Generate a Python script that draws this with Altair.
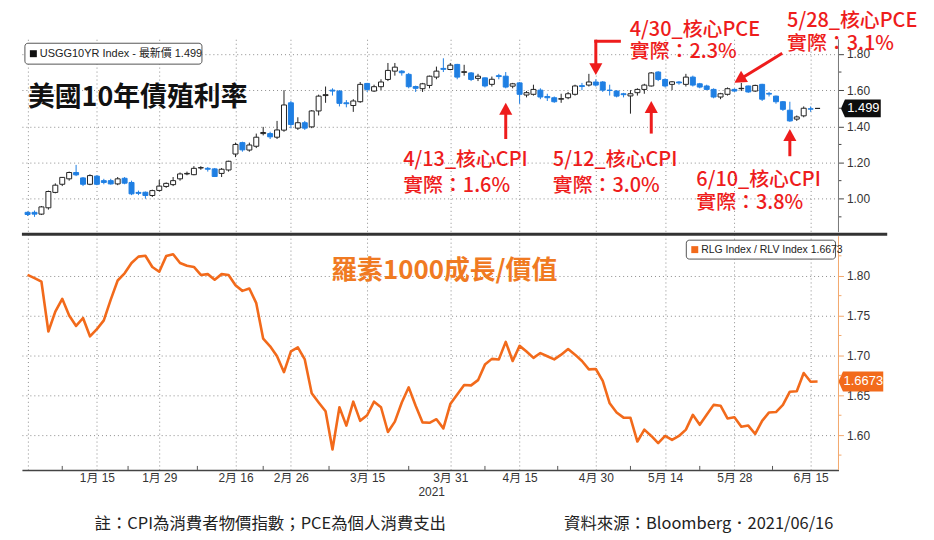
import altair as alt
import pandas as pd

# trading days shown on the Bloomberg chart (weekends and US holidays skipped)
holidays = ["2021-01-01", "2021-01-18", "2021-02-15", "2021-04-02", "2021-05-31"]
days = [d for d in pd.bdate_range("2020-12-31", "2021-06-16").strftime("%Y-%m-%d")
        if d not in holidays]

# USGG10YR candles
yield_open = [0.925, 0.925, 0.915, 0.950, 1.035, 1.080, 1.110, 1.145, 1.115, 1.080,
              1.125, 1.100, 1.100, 1.082, 1.113, 1.090, 1.035, 1.036, 1.018, 1.046,
              1.068, 1.078, 1.110, 1.137, 1.133, 1.170, 1.168, 1.165, 1.140, 1.159,
              1.247, 1.310, 1.269, 1.290, 1.360, 1.360, 1.340, 1.379, 1.530, 1.390,
              1.420, 1.397, 1.485, 1.570, 1.600, 1.595, 1.530, 1.515, 1.536, 1.637,
              1.595, 1.619, 1.659, 1.705, 1.705, 1.687, 1.620, 1.608, 1.626, 1.672,
              1.720, 1.714, 1.742, 1.698, 1.695, 1.665, 1.668, 1.632, 1.680, 1.677,
              1.622, 1.640, 1.573, 1.577, 1.600, 1.565, 1.558, 1.550, 1.558, 1.577,
              1.625, 1.628, 1.645, 1.645, 1.600, 1.595, 1.580, 1.568, 1.586, 1.604,
              1.623, 1.700, 1.659, 1.632, 1.645, 1.632, 1.672, 1.635, 1.623, 1.604,
              1.562, 1.577, 1.604, 1.608, 1.623, 1.595, 1.632, 1.582, 1.567, 1.536,
              1.489, 1.440, 1.458, 1.497, 1.499]
yield_high = [0.930, 0.935, 0.960, 1.045, 1.085, 1.120, 1.150, 1.187, 1.120, 1.135,
              1.130, 1.110, 1.110, 1.120, 1.120, 1.100, 1.045, 1.040, 1.050, 1.104,
              1.090, 1.120, 1.145, 1.150, 1.180, 1.180, 1.175, 1.170, 1.170, 1.210,
              1.310, 1.315, 1.310, 1.360, 1.397, 1.370, 1.430, 1.600, 1.540, 1.450,
              1.430, 1.490, 1.575, 1.620, 1.610, 1.600, 1.545, 1.550, 1.645, 1.640,
              1.630, 1.660, 1.750, 1.750, 1.710, 1.695, 1.625, 1.640, 1.680, 1.730,
              1.776, 1.750, 1.745, 1.740, 1.700, 1.690, 1.670, 1.675, 1.690, 1.700,
              1.640, 1.645, 1.595, 1.630, 1.610, 1.580, 1.565, 1.580, 1.590, 1.630,
              1.640, 1.690, 1.660, 1.650, 1.630, 1.600, 1.585, 1.600, 1.610, 1.635,
              1.700, 1.705, 1.665, 1.650, 1.650, 1.690, 1.680, 1.640, 1.630, 1.610,
              1.585, 1.615, 1.610, 1.640, 1.625, 1.630, 1.635, 1.590, 1.570, 1.540,
              1.536, 1.460, 1.510, 1.510, 1.500]
yield_low = [0.905, 0.900, 0.910, 0.940, 1.030, 1.070, 1.100, 1.125, 1.070, 1.075,
             1.075, 1.080, 1.078, 1.075, 1.080, 1.020, 1.020, 1.000, 1.010, 1.040,
             1.060, 1.070, 1.100, 1.130, 1.130, 1.160, 1.150, 1.120, 1.120, 1.150,
             1.230, 1.260, 1.260, 1.280, 1.350, 1.330, 1.330, 1.370, 1.390, 1.380,
             1.380, 1.390, 1.460, 1.530, 1.570, 1.510, 1.505, 1.480, 1.530, 1.590,
             1.590, 1.600, 1.650, 1.680, 1.680, 1.610, 1.590, 1.590, 1.610, 1.660,
             1.700, 1.710, 1.660, 1.680, 1.650, 1.650, 1.615, 1.620, 1.660, 1.610,
             1.610, 1.525, 1.560, 1.570, 1.550, 1.540, 1.530, 1.530, 1.550, 1.570,
             1.600, 1.620, 1.620, 1.590, 1.570, 1.560, 1.560, 1.470, 1.570, 1.580,
             1.620, 1.650, 1.615, 1.600, 1.630, 1.620, 1.620, 1.610, 1.600, 1.555,
             1.550, 1.570, 1.590, 1.595, 1.585, 1.590, 1.540, 1.565, 1.525, 1.485,
             1.425, 1.430, 1.450, 1.480, 1.498]
yield_close = [0.913, 0.915, 0.955, 1.040, 1.075, 1.118, 1.145, 1.132, 1.080, 1.128,
               1.080, 1.090, 1.082, 1.110, 1.086, 1.027, 1.030, 1.018, 1.045, 1.070,
               1.085, 1.100, 1.137, 1.140, 1.168, 1.172, 1.163, 1.123, 1.163, 1.207,
               1.300, 1.270, 1.297, 1.340, 1.366, 1.342, 1.380, 1.518, 1.410, 1.420,
               1.390, 1.485, 1.567, 1.575, 1.595, 1.527, 1.525, 1.540, 1.632, 1.604,
               1.619, 1.645, 1.709, 1.727, 1.696, 1.619, 1.610, 1.635, 1.677, 1.705,
               1.715, 1.738, 1.672, 1.702, 1.659, 1.677, 1.623, 1.660, 1.675, 1.617,
               1.635, 1.577, 1.586, 1.604, 1.562, 1.558, 1.536, 1.553, 1.580, 1.623,
               1.620, 1.645, 1.628, 1.600, 1.598, 1.567, 1.575, 1.580, 1.604, 1.628,
               1.695, 1.659, 1.623, 1.646, 1.640, 1.672, 1.628, 1.617, 1.604, 1.562,
               1.580, 1.608, 1.595, 1.610, 1.590, 1.626, 1.550, 1.578, 1.536, 1.494,
               1.430, 1.452, 1.500, 1.495, 1.499]

# RLG Index / RLV Index
ratio = [1.801, 1.797, 1.7925, 1.730, 1.755, 1.771, 1.750, 1.737, 1.747, 1.724,
         1.733, 1.744, 1.770, 1.794, 1.803, 1.816, 1.824, 1.825, 1.811, 1.805,
         1.8246, 1.827, 1.816, 1.8125, 1.811, 1.801, 1.802, 1.795, 1.802, 1.801,
         1.788, 1.781, 1.784, 1.7656, 1.721, 1.7115, 1.699, 1.679, 1.705, 1.710,
         1.695, 1.6525, 1.641, 1.630, 1.582, 1.635, 1.612, 1.642, 1.618, 1.625,
         1.642, 1.635, 1.604, 1.617, 1.641, 1.660, 1.637, 1.616, 1.6155, 1.620,
         1.6085, 1.639, 1.651, 1.663, 1.6625, 1.669, 1.6885, 1.6957, 1.695, 1.717,
         1.693, 1.712, 1.705, 1.697, 1.703, 1.699, 1.695, 1.701, 1.708, 1.701,
         1.693, 1.6825, 1.683, 1.668, 1.640, 1.6285, 1.622, 1.6218, 1.592, 1.607,
         1.599, 1.590, 1.599, 1.594, 1.599, 1.607, 1.6255, 1.613, 1.6255, 1.638,
         1.637, 1.621, 1.6225, 1.6105, 1.612, 1.6015, 1.618, 1.6285, 1.629, 1.638,
         1.6545, 1.655, 1.678, 1.667, 1.6673]

tick_days = ["2021-01-15", "2021-01-29", "2021-02-16", "2021-02-26", "2021-03-15",
             "2021-03-31", "2021-04-15", "2021-04-30", "2021-05-14", "2021-05-28",
             "2021-06-15"]
tick_labels = ["1月 15", "1月 29", "2月 16", "2月 26", "3月 15", "3月 31", "4月 15",
               "4月 30", "5月 14", "5月 28", "6月 15"]
yield_ticks = [1.0, 1.2, 1.4, 1.6, 1.8]
ratio_ticks = [1.60, 1.65, 1.70, 1.75, 1.80]

# red call-outs
cpi_days = ["2021-04-13", "2021-05-12", "2021-06-10"]
cpi_tail = [1.33, 1.36, 1.235]
cpi_tip = [1.53, 1.54, 1.385]
note_text = ["4/13_核心CPI", "實際：1.6%", "5/12_核心CPI", "實際：3.0%",
             "6/10_核心CPI", "實際：3.8%", "4/30_核心PCE", "實際：2.3%",
             "5/28_核心PCE", "實際：3.1%"]
note_x = [54.2, 54.2, 75.8, 75.8, 96.5, 96.5, 86.9, 86.9, 109.6, 109.6]
note_v = [1.216, 1.073, 1.216, 1.073, 1.106, 0.974, 1.930, 1.812, 1.982, 1.855]

RED = "#ee1c1c"
BLUE = "#1f7fe3"
ORANGE = "#f26a1b"
CJK = "Noto Sans CJK TC"
LAT = "Liberation Sans"
HEAD = "M0,0 L0.55,1 L-0.55,1 Z"
TAG = "M-1,0 L-0.8,-0.45 L1,-0.45 L1,0.45 L-0.8,0.45 Z"

W, H = 821, 433

df = pd.DataFrame({"i": range(len(days)), "day": days, "open": yield_open,
                   "high": yield_high, "low": yield_low, "close": yield_close,
                   "ratio": ratio})
df["up"] = df["close"] >= df["open"]

tick_pos = [days.index(d) for d in tick_days]
minor_pos = [(a + b) / 2 for a, b in zip([0] + tick_pos[:-1], tick_pos)]
label_expr = "indexof(%s, datum.value) >= 0 ? %s[indexof(%s, datum.value)] : ''" % (
    tick_pos, tick_labels, tick_pos)

xs = alt.Scale(domain=[-0.1, 116.3], nice=False, zero=False)
ys = alt.Scale(domain=[-0.498, 1.881], nice=False, zero=False)
rs = alt.Scale(domain=[1.5564, 2.0966], nice=False, zero=False)

grid = dict(grid=True, gridColor="#8c8c8c", gridDash=[1, 3], gridWidth=1)
yield_axis = alt.Axis(orient="right", values=yield_ticks, format=".2f", title=None,
                      domain=False, tickColor="#444", tickSize=5, labelColor="#333",
                      labelFontSize=12, labelFont=LAT, labelPadding=3, **grid)
ratio_axis = alt.Axis(orient="right", values=ratio_ticks, format=".2f", title=None,
                      domain=False, tickColor="#f3a76b", tickSize=5, labelColor="#333",
                      labelFontSize=12, labelFont=LAT, labelPadding=3, **grid)
x_axis = alt.Axis(values=[0] + tick_pos, labelExpr=label_expr, title=None, ticks=False,
                  domainColor="#444", domainWidth=1.5, labelColor="#333",
                  labelFontSize=12, labelFont=LAT + ", " + CJK, labelPadding=3,
                  labelFlush=False, **grid)


# every layer on a scale carries the same axis, so the merged axis stays on
def X(field):
    return alt.X(field, scale=xs, axis=x_axis)


def Y(field):
    return alt.Y(field, scale=ys, axis=yield_axis)


def R(field):
    return alt.Y(field, scale=rs, axis=ratio_axis)


# ---- top panel: 10y yield candles ----
wicks = alt.Chart(df).mark_rule(strokeWidth=1).encode(
    x=X("i:Q"), y=Y("low:Q"), y2="high:Q",
    color=alt.condition(alt.datum.up, alt.value("#222"), alt.value(BLUE)),
)
bodies = alt.Chart(df).mark_bar(size=5, strokeWidth=1).encode(
    x=X("i:Q"), y=Y("open:Q"), y2="close:Q",
    fill=alt.condition(alt.datum.up, alt.value("white"), alt.value(BLUE)),
    stroke=alt.condition(alt.datum.up, alt.value("#222"), alt.value(BLUE)),
)

top_last = pd.DataFrame({"v": [yield_close[-1]], "t": ["%.3f" % yield_close[-1]]})
tag_top = alt.Chart(top_last).mark_point(shape=TAG, size=1600, filled=True, opacity=1,
                                         color="#0d0d0d").encode(
    x=alt.value(843.5), y=Y("v:Q"))
tag_top_txt = alt.Chart(top_last).mark_text(color="white", fontSize=13, font=LAT).encode(
    x=alt.value(846), y=Y("v:Q"), text="t:N")

minor_top = alt.Chart(pd.DataFrame({"v": [t - 0.1 for t in yield_ticks]})).mark_rule(
    color="#444").encode(x=alt.value(W), x2=alt.value(W + 3), y=Y("v:Q"))

cpi = pd.DataFrame({"i": [days.index(d) for d in cpi_days], "tail": cpi_tail, "tip": cpi_tip})
cpi["neck"] = cpi["tip"] - 0.04
cpi_shaft = alt.Chart(cpi).mark_rule(color=RED, strokeWidth=3).encode(
    x=X("i:Q"), y=Y("tail:Q"), y2="neck:Q")
cpi_head = alt.Chart(cpi).mark_point(shape=HEAD, size=576, filled=True, opacity=1,
                                     color=RED).encode(x=X("i:Q"), y=Y("tip:Q"))

pce1 = pd.DataFrame({"i": [days.index("2021-04-30")], "i2": [85.4], "top": [1.87],
                     "tip": [1.683], "neck": [1.723]})
pce1_h = alt.Chart(pce1).mark_rule(color=RED, strokeWidth=3, strokeCap="square").encode(
    x=X("i:Q"), x2="i2:Q", y=Y("top:Q"))
pce1_v = alt.Chart(pce1).mark_rule(color=RED, strokeWidth=3, strokeCap="square").encode(
    x=X("i:Q"), y=Y("top:Q"), y2="neck:Q")
pce1_head = alt.Chart(pce1).mark_point(shape=HEAD, size=576, filled=True, opacity=1,
                                       color=RED, angle=180).encode(x=X("i:Q"), y=Y("tip:Q"))

pce2 = pd.DataFrame({"i": [108.9], "v": [1.804], "i2": [102.85], "v2": [1.661],
                     "ti": [days.index("2021-05-28")], "tv": [1.641]})
pce2_shaft = alt.Chart(pce2).mark_rule(color=RED, strokeWidth=3).encode(
    x=X("i:Q"), x2="i2:Q", y=Y("v:Q"), y2="v2:Q")
pce2_head = alt.Chart(pce2).mark_point(shape=HEAD, size=576, filled=True, opacity=1,
                                       color=RED, angle=238).encode(x=X("ti:Q"), y=Y("tv:Q"))

notes = alt.Chart(pd.DataFrame({"x": note_x, "v": note_v, "t": note_text})).mark_text(
    align="left", baseline="middle", color=RED, fontSize=20, font=CJK, fontWeight=500).encode(
    x=X("x:Q"), y=Y("v:Q"), text="t:N")

top = alt.layer(wicks, bodies, tag_top, tag_top_txt, minor_top, cpi_shaft, cpi_head,
                pce1_h, pce1_v, pce1_head, pce2_shaft, pce2_head, notes)

# ---- bottom panel: growth / value ratio ----
line = alt.Chart(df).mark_line(color=ORANGE, strokeWidth=2.6, strokeJoin="round").encode(
    x=X("i:Q"), y=R("ratio:Q"))
bot_last = pd.DataFrame({"v": [ratio[-1]], "t": ["%.4f" % ratio[-1]]})
tag_bot = alt.Chart(bot_last).mark_point(shape=TAG, size=2025, filled=True, opacity=1,
                                         color=ORANGE).encode(x=alt.value(843.5), y=R("v:Q"))
tag_bot_txt = alt.Chart(bot_last).mark_text(color="white", fontSize=13, font=LAT).encode(
    x=alt.value(846), y=R("v:Q"), text="t:N")
minor_bot = alt.Chart(pd.DataFrame({"v": [t - 0.025 for t in ratio_ticks] + [1.825]})).mark_rule(
    color="#f3a76b").encode(x=alt.value(W), x2=alt.value(W + 3), y=R("v:Q"))
minor_x = alt.Chart(pd.DataFrame({"i": minor_pos})).mark_rule(color="#555").encode(
    x=X("i:Q"), y=alt.value(H - 4), y2=alt.value(H))

bottom = alt.layer(line, tag_bot, tag_bot_txt, minor_bot, minor_x)

# ---- frame, legends, titles, footer ----
one = pd.DataFrame({"k": [0]})


def rule(color, width, **enc):
    return alt.Chart(one).mark_rule(color=color, strokeWidth=width).encode(**enc)


def label(text, x, y, size, color="#222", font=CJK, weight="normal", align="left"):
    return alt.Chart(one).mark_text(align=align, baseline="middle", fontSize=size,
                                    font=font, fontWeight=weight, color=color).encode(
        x=alt.value(x), y=alt.value(y), text=alt.value(text))


def box(x, x2, y, y2, **style):
    return alt.Chart(one).mark_rect(**style).encode(
        x=alt.value(x), x2=alt.value(x2), y=alt.value(y), y2=alt.value(y2))


decor = [
    rule("#777", 1, x=alt.value(W), y=alt.value(0), y2=alt.value(194)),
    rule("#f3a76b", 1, x=alt.value(W), y=alt.value(198), y2=alt.value(H)),
    rule("#333", 3, x=alt.value(0), x2=alt.value(870), y=alt.value(196)),
    box(3, 181, 4, 25, fill="white", stroke="#555", strokeWidth=1, cornerRadius=3),
    box(8, 15, 11, 18, color="#111"),
    label("USGG10YR Index - 最新價 %.3f" % yield_close[-1], 18, 15, 11, font=LAT + ", " + CJK),
    box(668, 818, 202, 221, fill="white", stroke="#555", strokeWidth=1, cornerRadius=3),
    box(673, 680, 208, 215, color=ORANGE),
    label("RLG Index / RLV Index %.4f" % ratio[-1], 683, 212, 10.5, font=LAT),
    label("美國10年債殖利率", 6, 59, 27, color="#111", weight="bold"),
    label("羅素1000成長/價值", 311, 233, 26, color="#f07a22", weight="bold"),
    label("2021", 412, 455, 12, color="#333", font=LAT, align="center"),
    label("註：CPI為消費者物價指數；PCE為個人消費支出", 73, 487, 16.5),
    label("資料來源：Bloomberg．2021/06/16", 545, 487, 16.5),
]

chart = alt.layer(top, bottom, *decor).resolve_scale(y="independent").properties(
    width=W, height=H,
    padding={"left": 14, "top": 30, "right": 88, "bottom": 66},
    autosize=alt.AutoSizeParams(type="none"),
    background="white",
).configure_view(stroke=None)

chart.save("out.html", embed_options={"renderer": "svg", "actions": False})
